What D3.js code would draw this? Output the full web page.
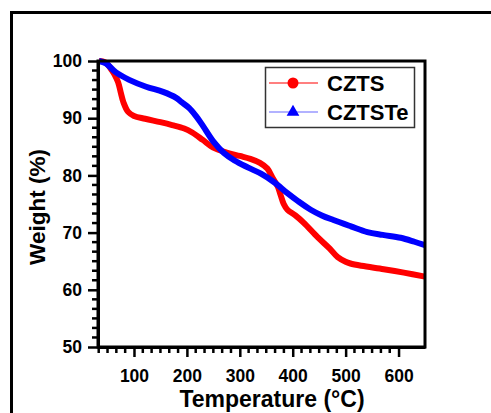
<!DOCTYPE html>
<html>
<head>
<meta charset="utf-8">
<script src="https://cdn.jsdelivr.net/npm/d3@7"></script>
<style>
  body { margin: 0; background: #fff; }
  svg { display: block; font-family: "Liberation Sans", Arial, sans-serif; font-weight: bold; }
</style>
</head>
<body>
<script>
// TGA curves
const cztsTemp = [34, 45, 51, 58, 64, 70, 75, 80, 89, 100, 121, 150, 172, 195, 210, 230, 249, 275, 300, 320, 338, 352, 363, 372, 377, 383, 390, 405, 421, 447, 470, 485, 500, 509, 530, 572, 610, 650];
const cztsWeight = [100, 99.8, 99.3, 98.4, 97.5, 96.3, 94.5, 92.8, 91.1, 90.4, 89.9, 89.3, 88.8, 88.2, 87.5, 86.2, 84.9, 84.0, 83.4, 82.9, 82.2, 81.2, 79.4, 78.0, 76.6, 75.0, 74.0, 73.0, 71.7, 69.2, 67.2, 65.7, 64.9, 64.6, 64.2, 63.6, 63.0, 62.3];

const cztsteTemp = [34, 47, 66, 91, 123, 155, 179, 190, 204, 217, 230, 251, 270, 290, 315, 340, 365, 390, 410, 434, 455, 477, 510, 541, 570, 604, 630, 650];
const cztsteWeight = [100, 99.6, 98.0, 96.7, 95.5, 94.6, 93.6, 92.8, 91.8, 90.4, 88.7, 85.8, 83.9, 82.6, 81.4, 80.3, 78.8, 76.9, 75.5, 74.0, 73.0, 72.2, 71.1, 70.1, 69.6, 69.1, 68.4, 67.8];

const xTicks = [100, 200, 300, 400, 500, 600];
const yTicks = [50, 60, 70, 80, 90, 100];
const seriesNames = ['CZTS', 'CZTSTe'];

const width = 491;
const height = 413;
const margin = { top: 61, right: 66, bottom: 66, left: 98 };

const svg = d3.select('body')
    .append('svg')
    .attr('width', width)
    .attr('height', height);

// outer frame, runs off the right and bottom edge
svg.append('rect')
    .attr('x', 11.5)
    .attr('y', 12.5)
    .attr('width', 520)
    .attr('height', 440)
    .attr('fill', 'none')
    .attr('stroke', '#000')
    .attr('stroke-width', 3);

const x = d3.scaleLinear()
    .domain([32, 650])
    .range([margin.left, width - margin.right]);

const y = d3.scaleLinear()
    .domain([50, 100])
    .range([height - margin.bottom, margin.top]);

const minorX = d3.range(0, 6 * 6 + 1).map(i => i * 100 / 6)
    .filter(v => v >= 32 && v <= 650 && !xTicks.includes(Math.round(v)));
const minorY = d3.range(0, 31).map(i => 50 + i * 10 / 6)
    .filter(v => v <= 100 && !yTicks.includes(Math.round(v * 1000) / 1000));

// curves
const line = d3.line()
    .x(d => x(d[0]))
    .y(d => y(d[1]))
    .curve(d3.curveCatmullRom.alpha(0.5));

svg.append('path')
    .datum(d3.zip(cztsTemp, cztsWeight))
    .attr('d', line)
    .attr('fill', 'none')
    .attr('stroke', '#ff0000')
    .attr('stroke-width', 6)
    .attr('stroke-linejoin', 'round');

svg.append('path')
    .datum(d3.zip(cztsteTemp, cztsteWeight))
    .attr('d', line)
    .attr('fill', 'none')
    .attr('stroke', '#0000ff')
    .attr('stroke-width', 6)
    .attr('stroke-linejoin', 'round');

// plot frame
svg.append('rect')
    .attr('x', x.range()[0])
    .attr('y', y.range()[1])
    .attr('width', x.range()[1] - x.range()[0])
    .attr('height', y.range()[0] - y.range()[1])
    .attr('fill', 'none')
    .attr('stroke', '#000')
    .attr('stroke-width', 3);

// axes
const xAxis = svg.append('g')
    .attr('transform', `translate(0,${y.range()[0]})`)
    .call(d3.axisBottom(x).tickValues(xTicks).tickSize(10).tickSizeOuter(0).tickPadding(13));

xAxis.append('g')
    .selectAll('line')
    .data(minorX)
    .join('line')
    .attr('x1', d => x(d))
    .attr('x2', d => x(d))
    .attr('y1', 0)
    .attr('y2', 6)
    .attr('stroke', '#000')
    .attr('stroke-width', 2.5);

const yAxis = svg.append('g')
    .attr('transform', `translate(${x.range()[0]},0)`)
    .call(d3.axisLeft(y).tickValues(yTicks).tickSize(10).tickSizeOuter(0).tickPadding(6));

yAxis.append('g')
    .selectAll('line')
    .data(minorY)
    .join('line')
    .attr('y1', d => y(d))
    .attr('y2', d => y(d))
    .attr('x1', 0)
    .attr('x2', -6)
    .attr('stroke', '#000')
    .attr('stroke-width', 2.5);

svg.selectAll('.domain').attr('stroke-width', 3);
svg.selectAll('.tick line').attr('stroke-width', 2.5);
svg.selectAll('.tick text')
    .attr('font-family', '"Liberation Sans", Arial, sans-serif')
    .attr('font-weight', 'bold')
    .attr('font-size', 17.5)
    .attr('fill', '#000');

// axis titles
svg.append('text')
    .attr('x', 272)
    .attr('y', 407)
    .attr('text-anchor', 'middle')
    .attr('font-size', 23)
    .text('Temperature (°C)');

svg.append('text')
    .attr('transform', 'translate(45,207) rotate(-90)')
    .attr('text-anchor', 'middle')
    .attr('font-size', 22.5)
    .text('Weight (%)');

// legend
const legend = svg.append('g').attr('transform', 'translate(265,67)');

legend.append('rect')
    .attr('x', 0.5)
    .attr('y', 0.5)
    .attr('width', 149)
    .attr('height', 60)
    .attr('fill', '#fff')
    .attr('stroke', '#333')
    .attr('stroke-width', 1.5);

const legendColors = ['#ff0000', '#0000ff'];
const legendLine = ['#ff0000', '#6666ff'];

seriesNames.forEach((name, i) => {
    const ly = 16 + i * 29;
    legend.append('line')
        .attr('x1', 4)
        .attr('x2', 53)
        .attr('y1', ly)
        .attr('y2', ly)
        .attr('stroke', legendLine[i])
        .attr('stroke-width', 1.2);
    if (i === 0) {
        legend.append('circle')
            .attr('cx', 28)
            .attr('cy', ly)
            .attr('r', 5.5)
            .attr('fill', legendColors[i]);
    } else {
        legend.append('path')
            .attr('d', d3.symbol(d3.symbolTriangle, 70)())
            .attr('transform', `translate(28,${ly})`)
            .attr('fill', legendColors[i]);
    }
    legend.append('text')
        .attr('x', 62)
        .attr('y', ly + 8)
        .attr('font-size', 22)
        .text(name);
});
</script>
</body>
</html>
